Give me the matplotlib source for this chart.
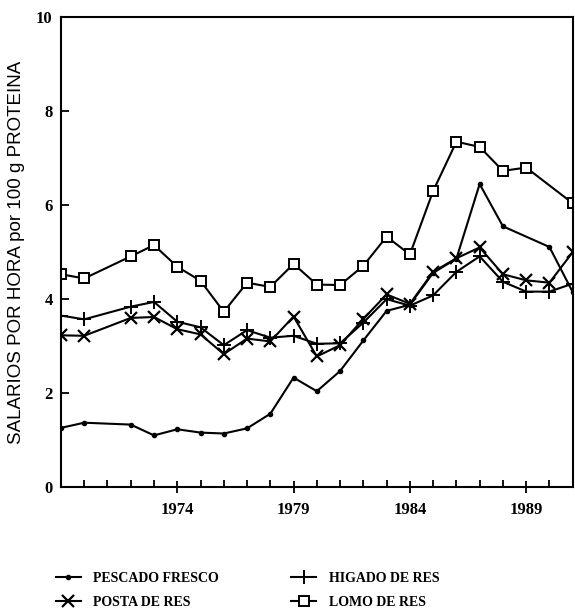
import matplotlib.pyplot as plt
from matplotlib.ticker import MultipleLocator

# salarios por hora por 100 g de proteina
years_pescado = [1969, 1970, 1972, 1973, 1974, 1975, 1976, 1977, 1978, 1979, 1980,
                 1981, 1982, 1983, 1984, 1985, 1986, 1987, 1988, 1990, 1991]
pescado = [1.26, 1.37, 1.33, 1.10, 1.23, 1.16, 1.14, 1.25, 1.56, 2.33, 2.04,
           2.47, 3.12, 3.75, 3.88, 4.56, 4.86, 6.45, 5.55, 5.11, 4.15]

years_posta = [1969, 1970, 1972, 1973, 1974, 1975, 1976, 1977, 1978, 1979, 1980,
               1981, 1982, 1983, 1984, 1985, 1986, 1987, 1988, 1989, 1990, 1991]
posta = [3.23, 3.22, 3.60, 3.62, 3.36, 3.25, 2.83, 3.16, 3.10, 3.63, 2.78,
         3.02, 3.58, 4.10, 3.90, 4.58, 4.87, 5.10, 4.53, 4.40, 4.35, 5.00]

years_higado = years_posta
higado = [3.65, 3.57, 3.84, 3.94, 3.52, 3.40, 3.02, 3.34, 3.18, 3.22, 3.05,
          3.06, 3.50, 4.00, 3.86, 4.08, 4.58, 4.91, 4.37, 4.16, 4.16, 4.33]

years_lomo = [1969, 1970, 1972, 1973, 1974, 1975, 1976, 1977, 1978, 1979, 1980,
              1981, 1982, 1983, 1984, 1985, 1986, 1987, 1988, 1989, 1991]
lomo = [4.53, 4.44, 4.91, 5.15, 4.69, 4.39, 3.73, 4.35, 4.26, 4.75, 4.31,
        4.30, 4.71, 5.33, 4.95, 6.30, 7.35, 7.24, 6.73, 6.80, 6.04]

serif = ['Liberation Serif', 'DejaVu Serif']

fig = plt.figure(figsize=(5.75, 6.15), dpi=100)
ax = fig.add_axes([0.106, 0.208, 0.890, 0.764])

h1, = ax.plot(years_pescado, pescado, color='black', lw=1.5, marker='o', ms=3,
              label='PESCADO FRESCO')
h2, = ax.plot(years_posta, posta, color='black', lw=1.5, marker='x', ms=8, mew=1.6,
              label='POSTA DE RES')
h3, = ax.plot(years_higado, higado, color='black', lw=1.5, marker='+', ms=10, mew=1.4,
              label='HIGADO DE RES')
h4, = ax.plot(years_lomo, lomo, color='black', lw=1.5, marker='s', ms=7, mew=1.4,
              mfc='white', label='LOMO DE RES')

ax.set_xlim(1969, 1991)
ax.set_ylim(0, 10)
ax.set_xticks([1974, 1979, 1984, 1989])
ax.xaxis.set_minor_locator(MultipleLocator(1))
ax.set_yticks([0, 2, 4, 6, 8, 10])
ax.tick_params(axis='x', which='major', direction='inout', length=9, width=1.3, pad=6)
ax.tick_params(axis='x', which='minor', direction='in', length=5, width=1.3)
ax.tick_params(axis='y', which='major', direction='in', length=6, width=1.3, pad=6)
for lab in ax.get_xticklabels() + ax.get_yticklabels():
    lab.set_family(serif)
    lab.set_fontweight('bold')
    lab.set_fontsize(12)
for s in ax.spines.values():
    s.set_linewidth(1.5)

ax.set_ylabel('SALARIOS POR HORA por 100 g PROTEINA', family=['Liberation Sans', 'DejaVu Sans'],
              fontsize=13.5, labelpad=8)

fig.legend(handles=[h1, h2, h3, h4], ncol=2, frameon=False, loc='center left',
           bbox_to_anchor=(0.075, 0.04), handlelength=1.8, handletextpad=0.9,
           columnspacing=5.2, labelspacing=0.8,
           prop={'family': serif, 'weight': 'bold', 'size': 10})

fig.savefig('out.png', dpi=100)
